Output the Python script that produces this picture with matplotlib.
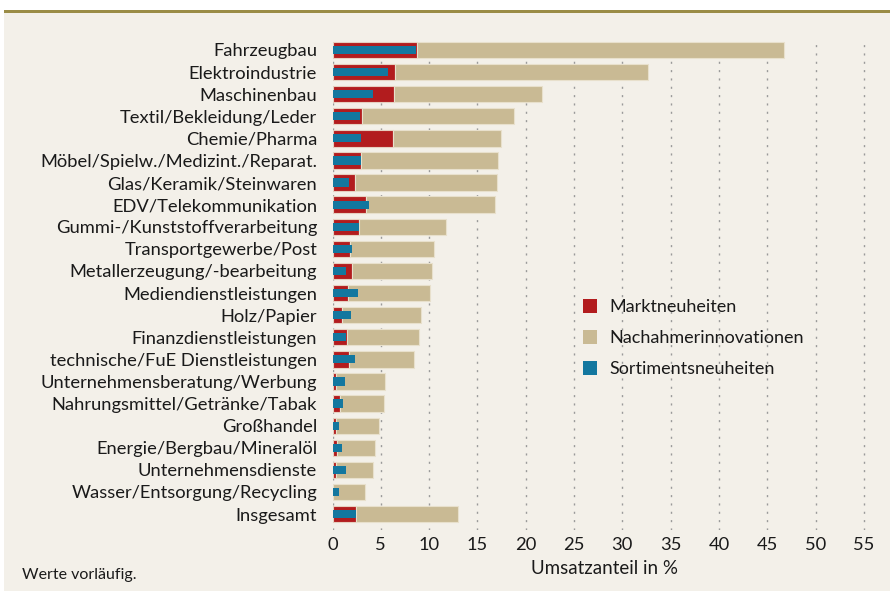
import numpy as np
import matplotlib.pyplot as plt
from matplotlib.patches import Rectangle, Patch

plt.rcParams['font.family'] = ['Lato', 'DejaVu Sans']

# Branchen (von oben nach unten)
branchen = [
    "Fahrzeugbau", "Elektroindustrie", "Maschinenbau", "Textil/Bekleidung/Leder",
    "Chemie/Pharma", "Möbel/Spielw./Medizint./Reparat.", "Glas/Keramik/Steinwaren",
    "EDV/Telekommunikation", "Gummi-/Kunststoffverarbeitung", "Transportgewerbe/Post",
    "Metallerzeugung/-bearbeitung", "Mediendienstleistungen", "Holz/Papier",
    "Finanzdienstleistungen", "technische/FuE Dienstleistungen",
    "Unternehmensberatung/Werbung", "Nahrungsmittel/Getränke/Tabak", "Großhandel",
    "Energie/Bergbau/Mineralöl", "Unternehmensdienste", "Wasser/Entsorgung/Recycling",
    "Insgesamt",
]

# Umsatzanteile in %
markt = [8.7, 6.5, 6.4, 3.1, 6.3, 3.0, 2.35, 3.5, 2.75, 1.85, 2.0, 1.6, 1.0, 1.5,
         1.75, 0.4, 0.8, 0.35, 0.5, 0.4, 0.1, 2.45]
nachahmer = [38.0, 26.2, 15.3, 15.7, 11.1, 14.1, 14.65, 13.3, 9.05, 8.65, 8.3, 8.5,
             8.2, 7.5, 6.7, 5.05, 4.5, 4.5, 3.9, 3.8, 3.3, 10.55]
sortiment = [8.6, 5.75, 4.2, 2.8, 3.0, 2.9, 1.7, 3.8, 2.75, 2.05, 1.4, 2.6, 1.95,
             1.4, 2.35, 1.3, 1.1, 0.7, 1.0, 1.4, 0.7, 2.45]

x_ticks = list(range(0, 60, 5))

ROT = "#b21c1e"
BEIGE = "#c9ba94"
BLAU = "#13779f"
BG = "#f3f0e9"

fig = plt.figure(figsize=(8.9, 5.91), dpi=100, facecolor="white")
fig.add_artist(Rectangle((3.5 / 890, 0), 1, 1 - 13 / 591, transform=fig.transFigure,
                         facecolor=BG, edgecolor="none", zorder=0))
fig.add_artist(Rectangle((3.5 / 890, 1 - 13 / 591), 1, 3 / 591, transform=fig.transFigure,
                         facecolor="#9a8c46", edgecolor="none", zorder=1))

ax = fig.add_axes([332.5 / 890, 1 - 530 / 591, 543.9 / 890, 490 / 591])
ax.set_facecolor("none")

y = np.arange(len(branchen))
ax.barh(y, markt, height=0.74, color=ROT, edgecolor="#e6cfc0", linewidth=0.8, zorder=3)
ax.barh(y, nachahmer, left=markt, height=0.74, color=BEIGE, edgecolor="#e8e0cc",
        linewidth=0.8, zorder=3)
ax.barh(y, sortiment, height=0.37, color=BLAU, linewidth=0, zorder=4)

ax.set_xlim(0, 56.3)
ax.set_ylim(len(branchen) - 1 + 0.72, -0.45)
ax.set_xticks(x_ticks)
ax.set_yticks(y)
ax.set_yticklabels(branchen)
ax.tick_params(axis="both", length=0, labelsize=13.2, colors="#1a1a1a")
ax.tick_params(axis="y", pad=11)
ax.tick_params(axis="x", pad=5)
for s in ax.spines.values():
    s.set_visible(False)
ax.grid(axis="x", color="#9a9a9a", linestyle=(0, (1.5, 4.5)), linewidth=1.0, zorder=1)
ax.set_xlabel("Umsatzanteil in %", fontsize=13.5, color="#1a1a1a", labelpad=5)

handles = [Patch(facecolor=ROT, label="Marktneuheiten"),
           Patch(facecolor=BEIGE, label="Nachahmerinnovationen"),
           Patch(facecolor=BLAU, label="Sortimentsneuheiten")]
leg = ax.legend(handles=handles, loc="upper left", bbox_to_anchor=(0.43, 0.505),
                frameon=False, fontsize=13, handlelength=0.8, handleheight=0.8,
                handletextpad=0.7, labelspacing=0.82)
for t in leg.get_texts():
    t.set_color("#1a1a1a")

fig.text(22 / 890, 1 - 575 / 591, "Werte vorläufig.", fontsize=11.5, color="#1a1a1a",
         va="center", ha="left")

fig.savefig("out.png", dpi=100, facecolor=fig.get_facecolor())
